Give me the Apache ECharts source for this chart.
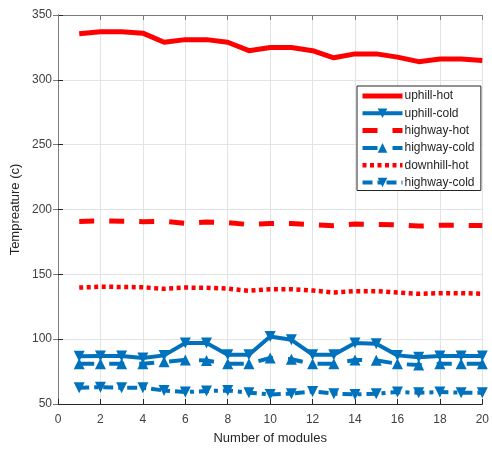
<!DOCTYPE html>
<html>
<head>
<meta charset="utf-8">
<script src="https://cdn.jsdelivr.net/npm/echarts@6/dist/echarts.min.js"></script>
<style>
  html, body { margin: 0; padding: 0; background: #fff; }
  #chart { width: 492px; height: 450px; }
</style>
</head>
<body>
<div id="chart"></div>
<script>
// Module counts along the x axis
const modules = [1,2,3,4,5,6,7,8,9,10,11,12,13,14,15,16,17,18,19,20];

// Temperatures per drive cycle
const uphillHot   = [335.5,337,337,336,329,331,331,329,322.5,325,325,322.5,317,320,320,317.5,314,316,316,315];
const uphillCold  = [86.8,87,87,85.5,87.5,97,97,88,88,102,99.5,88,88,97,96.4,87.5,86,87,87,87];
const highwayHot  = [190.8,191.2,191,190.6,190.8,189.4,190.4,189.8,188.4,189.2,189.2,188.2,187.4,188.8,188.4,188.2,187.2,187.8,187.8,187.6];
const highwayCold = [81,81,81,81,82.5,84,83.5,81,81,85.5,84.5,81,81,84,83.7,81,80,81,81,81];
const downhillHot = [139.8,140.4,140.3,140,138.8,139.8,139.6,139,137.3,138.5,138.5,137.5,136,137,137,136,135,135.5,135.5,135];
const highwayCold2 = [62.5,63,62.5,62.5,60.4,59.2,60,60.4,58.7,57.4,58,59.7,58,57.4,58,59.2,58.7,59.2,58.7,58.7];

const xTicks = { min: 0, max: 20, step: 2 };
const yTicks = { min: 50, max: 350, step: 50 };

const RED = '#ff0000';
const BLUE = '#0072bd';
const AXIS = '#262626';
const BOX = '#7a7a7a';
const LABEL = '#404040';
const FONT = 'Liberation Sans, Arial, sans-serif';
const CLEAR = 'rgba(0,0,0,0)';

const pairs = vals => modules.map((m, i) => [m, vals[i]]);

const chart = echarts.init(document.getElementById('chart'), null, { renderer: 'canvas' });

const axisCommon = {
  type: 'value',
  axisLine: { show: true, lineStyle: { color: AXIS, width: 1 } },
  axisTick: { show: true, inside: true, length: 5, lineStyle: { color: AXIS, width: 1 } },
  axisLabel: { color: LABEL, fontSize: 12, fontFamily: FONT },
};

const boxAxis = {
  type: 'value',
  axisLine: { show: true, lineStyle: { color: BOX, width: 1 } },
  axisTick: { show: true, inside: true, length: 5, lineStyle: { color: BOX, width: 1 } },
  axisLabel: { show: false },
  splitLine: { show: false }
};

chart.setOption({
  animation: false,
  backgroundColor: '#fff',
  grid: { left: 58, right: 8, top: 15, bottom: 43, containLabel: false },
  xAxis: [
    Object.assign({}, axisCommon, {
      min: xTicks.min, max: xTicks.max, interval: xTicks.step,
      name: 'Number of modules', nameLocation: 'middle', nameGap: 28,
      nameMoveOverlap: false,
      nameTextStyle: { color: AXIS, fontSize: 13, fontFamily: FONT },
      axisLabel: Object.assign({}, axisCommon.axisLabel, { margin: 10 }),
      splitLine: { show: true, lineStyle: { color: '#e3e3e3', width: 1 } }
    }),
    Object.assign({}, boxAxis, {
      position: 'top',
      min: xTicks.min, max: xTicks.max, interval: xTicks.step
    })
  ],
  yAxis: [
    Object.assign({}, axisCommon, {
      min: yTicks.min, max: yTicks.max, interval: yTicks.step,
      name: 'Tempreature (c)', nameLocation: 'middle', nameGap: 36, nameRotate: 90,
      nameMoveOverlap: false,
      nameTextStyle: { color: AXIS, fontSize: 13, fontFamily: FONT },
      axisLabel: Object.assign({}, axisCommon.axisLabel, { margin: 6 }),
      splitLine: { show: true, lineStyle: { color: '#e3e3e3', width: 1 } }
    }),
    Object.assign({}, boxAxis, {
      position: 'right',
      min: yTicks.min, max: yTicks.max, interval: yTicks.step
    })
  ],
  legend: {
    orient: 'vertical',
    left: 357, top: 86,
    padding: [4, 3, 2, 3],
    itemGap: 5.3,
    itemWidth: 40,
    itemHeight: 12,
    backgroundColor: '#fff',
    borderColor: AXIS,
    borderWidth: 1,
    lineStyle: { width: 'inherit' },
    textStyle: { color: AXIS, fontSize: 12, fontFamily: FONT, padding: [0, 0, 0, -3] },
    data: ['uphill-hot', 'uphill-cold', 'highway-hot', 'highway-cold', 'downhill-hot', 'highway-cold ']
  },
  series: [
    {
      name: 'uphill-hot', type: 'line', data: pairs(uphillHot),
      symbol: 'circle', showSymbol: false,
      lineStyle: { color: RED, width: 5 }, itemStyle: { color: CLEAR }
    },
    {
      name: 'uphill-cold', type: 'line', data: pairs(uphillCold),
      symbol: 'triangle', symbolRotate: 180, symbolSize: 11,
      lineStyle: { color: BLUE, width: 4 }, itemStyle: { color: BLUE }
    },
    {
      name: 'highway-hot', type: 'line', data: pairs(highwayHot),
      symbol: 'circle', showSymbol: false,
      lineStyle: { color: RED, width: 5, type: [15, 15], cap: 'butt' }, itemStyle: { color: CLEAR }
    },
    {
      name: 'highway-cold', type: 'line', data: pairs(highwayCold),
      symbol: 'triangle', symbolSize: 11,
      lineStyle: { color: BLUE, width: 4, type: [15, 15], cap: 'butt' }, itemStyle: { color: BLUE }
    },
    {
      name: 'downhill-hot', type: 'line', data: pairs(downhillHot),
      symbol: 'circle', showSymbol: false,
      lineStyle: { color: RED, width: 4.5, type: [4, 3.5], cap: 'butt' }, itemStyle: { color: CLEAR }
    },
    {
      name: 'highway-cold ', type: 'line', data: pairs(highwayCold2),
      symbol: 'triangle', symbolRotate: 180, symbolSize: 11,
      lineStyle: { color: BLUE, width: 4, type: [10, 5, 4, 5], cap: 'butt' }, itemStyle: { color: BLUE }
    }
  ]
});
</script>
</body>
</html>
